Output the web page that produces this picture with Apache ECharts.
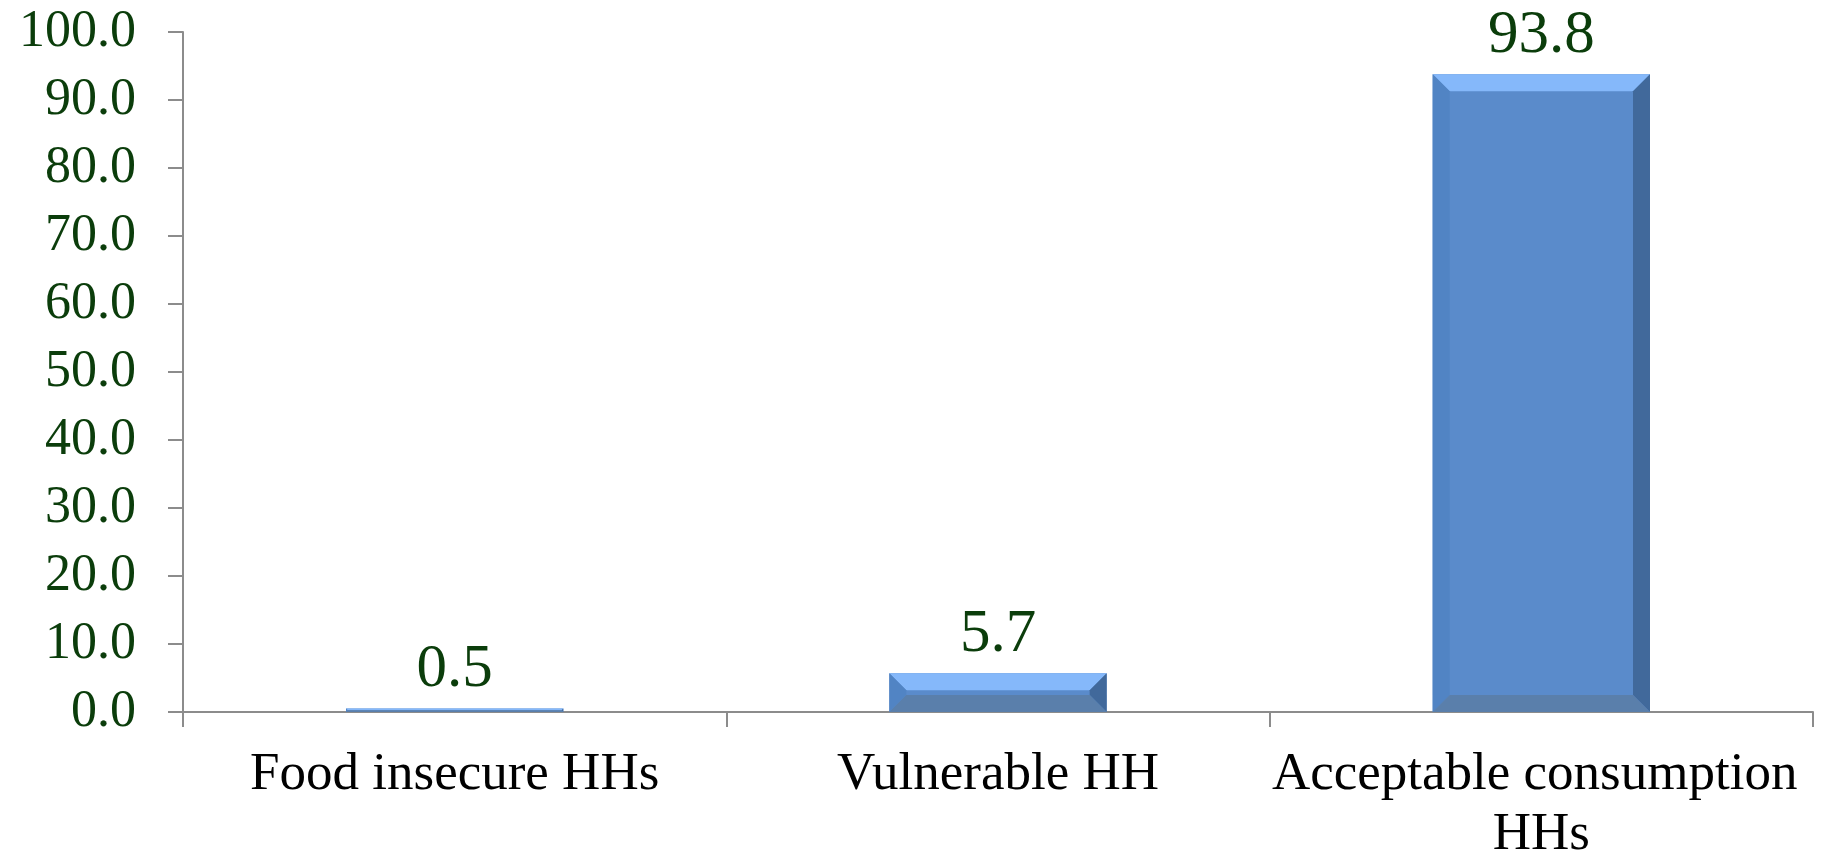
<!DOCTYPE html>
<html>
<head>
<meta charset="utf-8">
<script src="https://cdn.jsdelivr.net/npm/echarts@6/dist/echarts.min.js"></script>
<style>
  html, body { margin: 0; padding: 0; background: #fff; }
  #chart { width: 1830px; height: 862px; }
</style>
</head>
<body>
<div id="chart"></div>
<script>
const categories = ['Food insecure HHs', 'Vulnerable HH', 'Acceptable consumption HHs'];
const values = [0.5, 5.7, 93.8];
const yTicks = [0, 10, 20, 30, 40, 50, 60, 70, 80, 90, 100];

const serif = '"Liberation Serif", "Times New Roman", serif';
const green = '#0b3d0b';
const axisGray = '#8c8c8c';
// bevel faces of the bars
const face = '#5a8bcb', topFace = '#85b8fa', leftFace = '#5184c4', rightFace = '#41699b', bottomFace = '#5a7fab';

const chart = echarts.init(document.getElementById('chart'));

function renderBar(params, api) {
  const cat = api.value(0);
  const v = api.value(1);
  const top = api.coord([cat, v]);
  const base = api.coord([cat, 0]);
  const bw = api.size([1, 0])[0] * 0.4;
  const x0 = top[0] - bw / 2, x1 = top[0] + bw / 2;
  const y0 = top[1], y1 = base[1];
  const h = y1 - y0;
  const b = Math.min(17, h / 2, bw / 2);
  return {
    type: 'group',
    children: [
      { type: 'rect', shape: { x: x0, y: y0, width: bw, height: h }, style: { fill: face } },
      { type: 'polygon', shape: { points: [[x0, y0], [x1, y0], [x1 - b, y0 + b], [x0 + b, y0 + b]] }, style: { fill: topFace } },
      { type: 'polygon', shape: { points: [[x0, y0], [x0 + b, y0 + b], [x0 + b, y1 - b], [x0, y1]] }, style: { fill: leftFace } },
      { type: 'polygon', shape: { points: [[x1, y0], [x1 - b, y0 + b], [x1 - b, y1 - b], [x1, y1]] }, style: { fill: rightFace } },
      { type: 'polygon', shape: { points: [[x0, y1], [x0 + b, y1 - b], [x1 - b, y1 - b], [x1, y1]] }, style: { fill: bottomFace } },
      {
        type: 'text',
        style: {
          text: v.toFixed(1),
          x: top[0], y: y0 - 8,
          align: 'center', verticalAlign: 'bottom',
          font: '61px ' + serif,
          fill: green
        }
      }
    ]
  };
}

chart.setOption({
  animation: false,
  grid: { left: 183, right: 17, top: 32, bottom: 150, containLabel: false, outerBoundsMode: 'none' },
  xAxis: {
    type: 'category',
    data: categories,
    boundaryGap: true,
    axisLine: { lineStyle: { color: axisGray, width: 2 } },
    axisTick: { show: true, length: 15, alignWithLabel: false, lineStyle: { color: axisGray, width: 2 } },
    axisLabel: {
      interval: 0,
      margin: 33,
      color: '#000',
      fontFamily: serif,
      fontSize: 53,
      lineHeight: 60,
      width: 540,
      overflow: 'break'
    },
    splitLine: { show: false }
  },
  yAxis: {
    type: 'value',
    min: yTicks[0],
    max: yTicks[yTicks.length - 1],
    interval: yTicks[1] - yTicks[0],
    axisLine: { show: true, lineStyle: { color: axisGray, width: 2 } },
    axisTick: { show: true, length: 15, lineStyle: { color: axisGray, width: 2 } },
    axisLabel: {
      margin: 47,
      color: green,
      fontFamily: serif,
      fontSize: 52,
      formatter: v => v.toFixed(1)
    },
    splitLine: { show: false }
  },
  series: [{
    type: 'custom',
    renderItem: renderBar,
    data: values.map((v, i) => [i, v])
  }]
});
</script>
</body>
</html>
